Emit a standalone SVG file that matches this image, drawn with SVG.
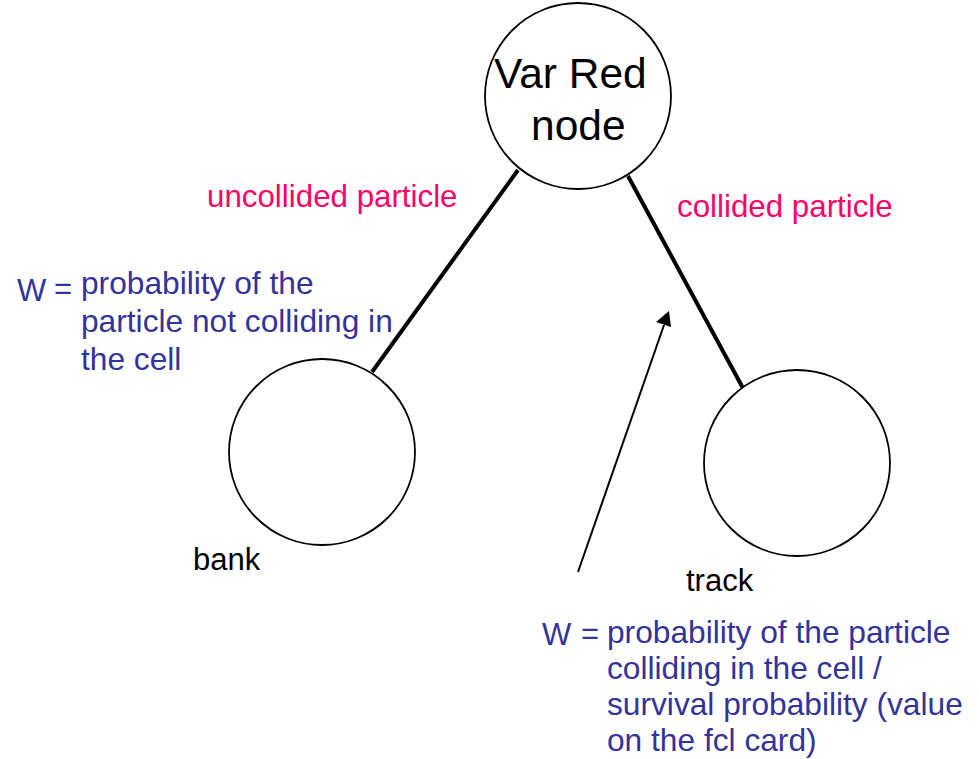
<svg xmlns="http://www.w3.org/2000/svg" width="979" height="759" viewBox="0 0 979 759">
  <style>
    .node { fill: #ffffff; stroke: #000000; stroke-width: 1.8; }
    .edge { stroke: #000000; stroke-width: 4; fill: none; }
    .pointer { stroke: #000000; stroke-width: 2; fill: none; }
    text { font-family: "Liberation Sans", Arial, sans-serif; }
    .title { font-size: 42.5px; fill: #000000; }
    .name { font-size: 31px; fill: #000000; }
    .branch { font-size: 31.3px; fill: #ff0066; }
    .weight { font-size: 31.7px; fill: #333399; }
    .wsym { font-size: 31px; fill: #333399; }
  </style>

  <!-- connectors -->
  <g id="connectors">
    <line class="edge" x1="518" y1="170" x2="372" y2="372"/>
    <line class="edge" x1="628" y1="176" x2="744" y2="390"/>
    <line class="pointer" x1="578" y1="572" x2="664" y2="325"/>
    <polygon points="669,311 656,322 671,327" fill="#000000"/>
  </g>

  <!-- root node -->
  <g id="var-red-node">
    <circle class="node" cx="578" cy="96" r="93"/>
    <text class="title" x="494" y="88">Var Red</text>
    <text class="title" x="531" y="140">node</text>
  </g>

  <!-- bank node -->
  <g id="bank-node">
    <circle class="node" cx="322" cy="452" r="93"/>
    <text class="name" x="193" y="570">bank</text>
  </g>

  <!-- track node -->
  <g id="track-node">
    <circle class="node" cx="797" cy="463" r="93"/>
    <text class="name" x="686" y="591">track</text>
  </g>

  <!-- branch labels -->
  <g id="branch-labels">
    <text class="branch" x="207" y="207">uncollided particle</text>
    <text class="branch" x="677" y="217">collided particle</text>
  </g>

  <!-- weight for the uncollided branch -->
  <g id="weight-uncollided">
    <text class="wsym" x="17" y="301">W</text>
    <text class="wsym" x="54" y="299">=</text>
    <text class="weight" x="81" y="294">probability of the</text>
    <text class="weight" x="81" y="332">particle not colliding in</text>
    <text class="weight" x="81" y="370">the cell</text>
  </g>

  <!-- weight for the collided branch -->
  <g id="weight-collided">
    <text class="wsym" x="542" y="645">W</text>
    <text class="wsym" x="581" y="644">=</text>
    <text class="weight" x="607" y="643">probability of the particle</text>
    <text class="weight" x="607" y="679">colliding in the cell /</text>
    <text class="weight" x="607" y="715">survival probability (value</text>
    <text class="weight" x="607" y="751">on the fcl card)</text>
  </g>
</svg>
